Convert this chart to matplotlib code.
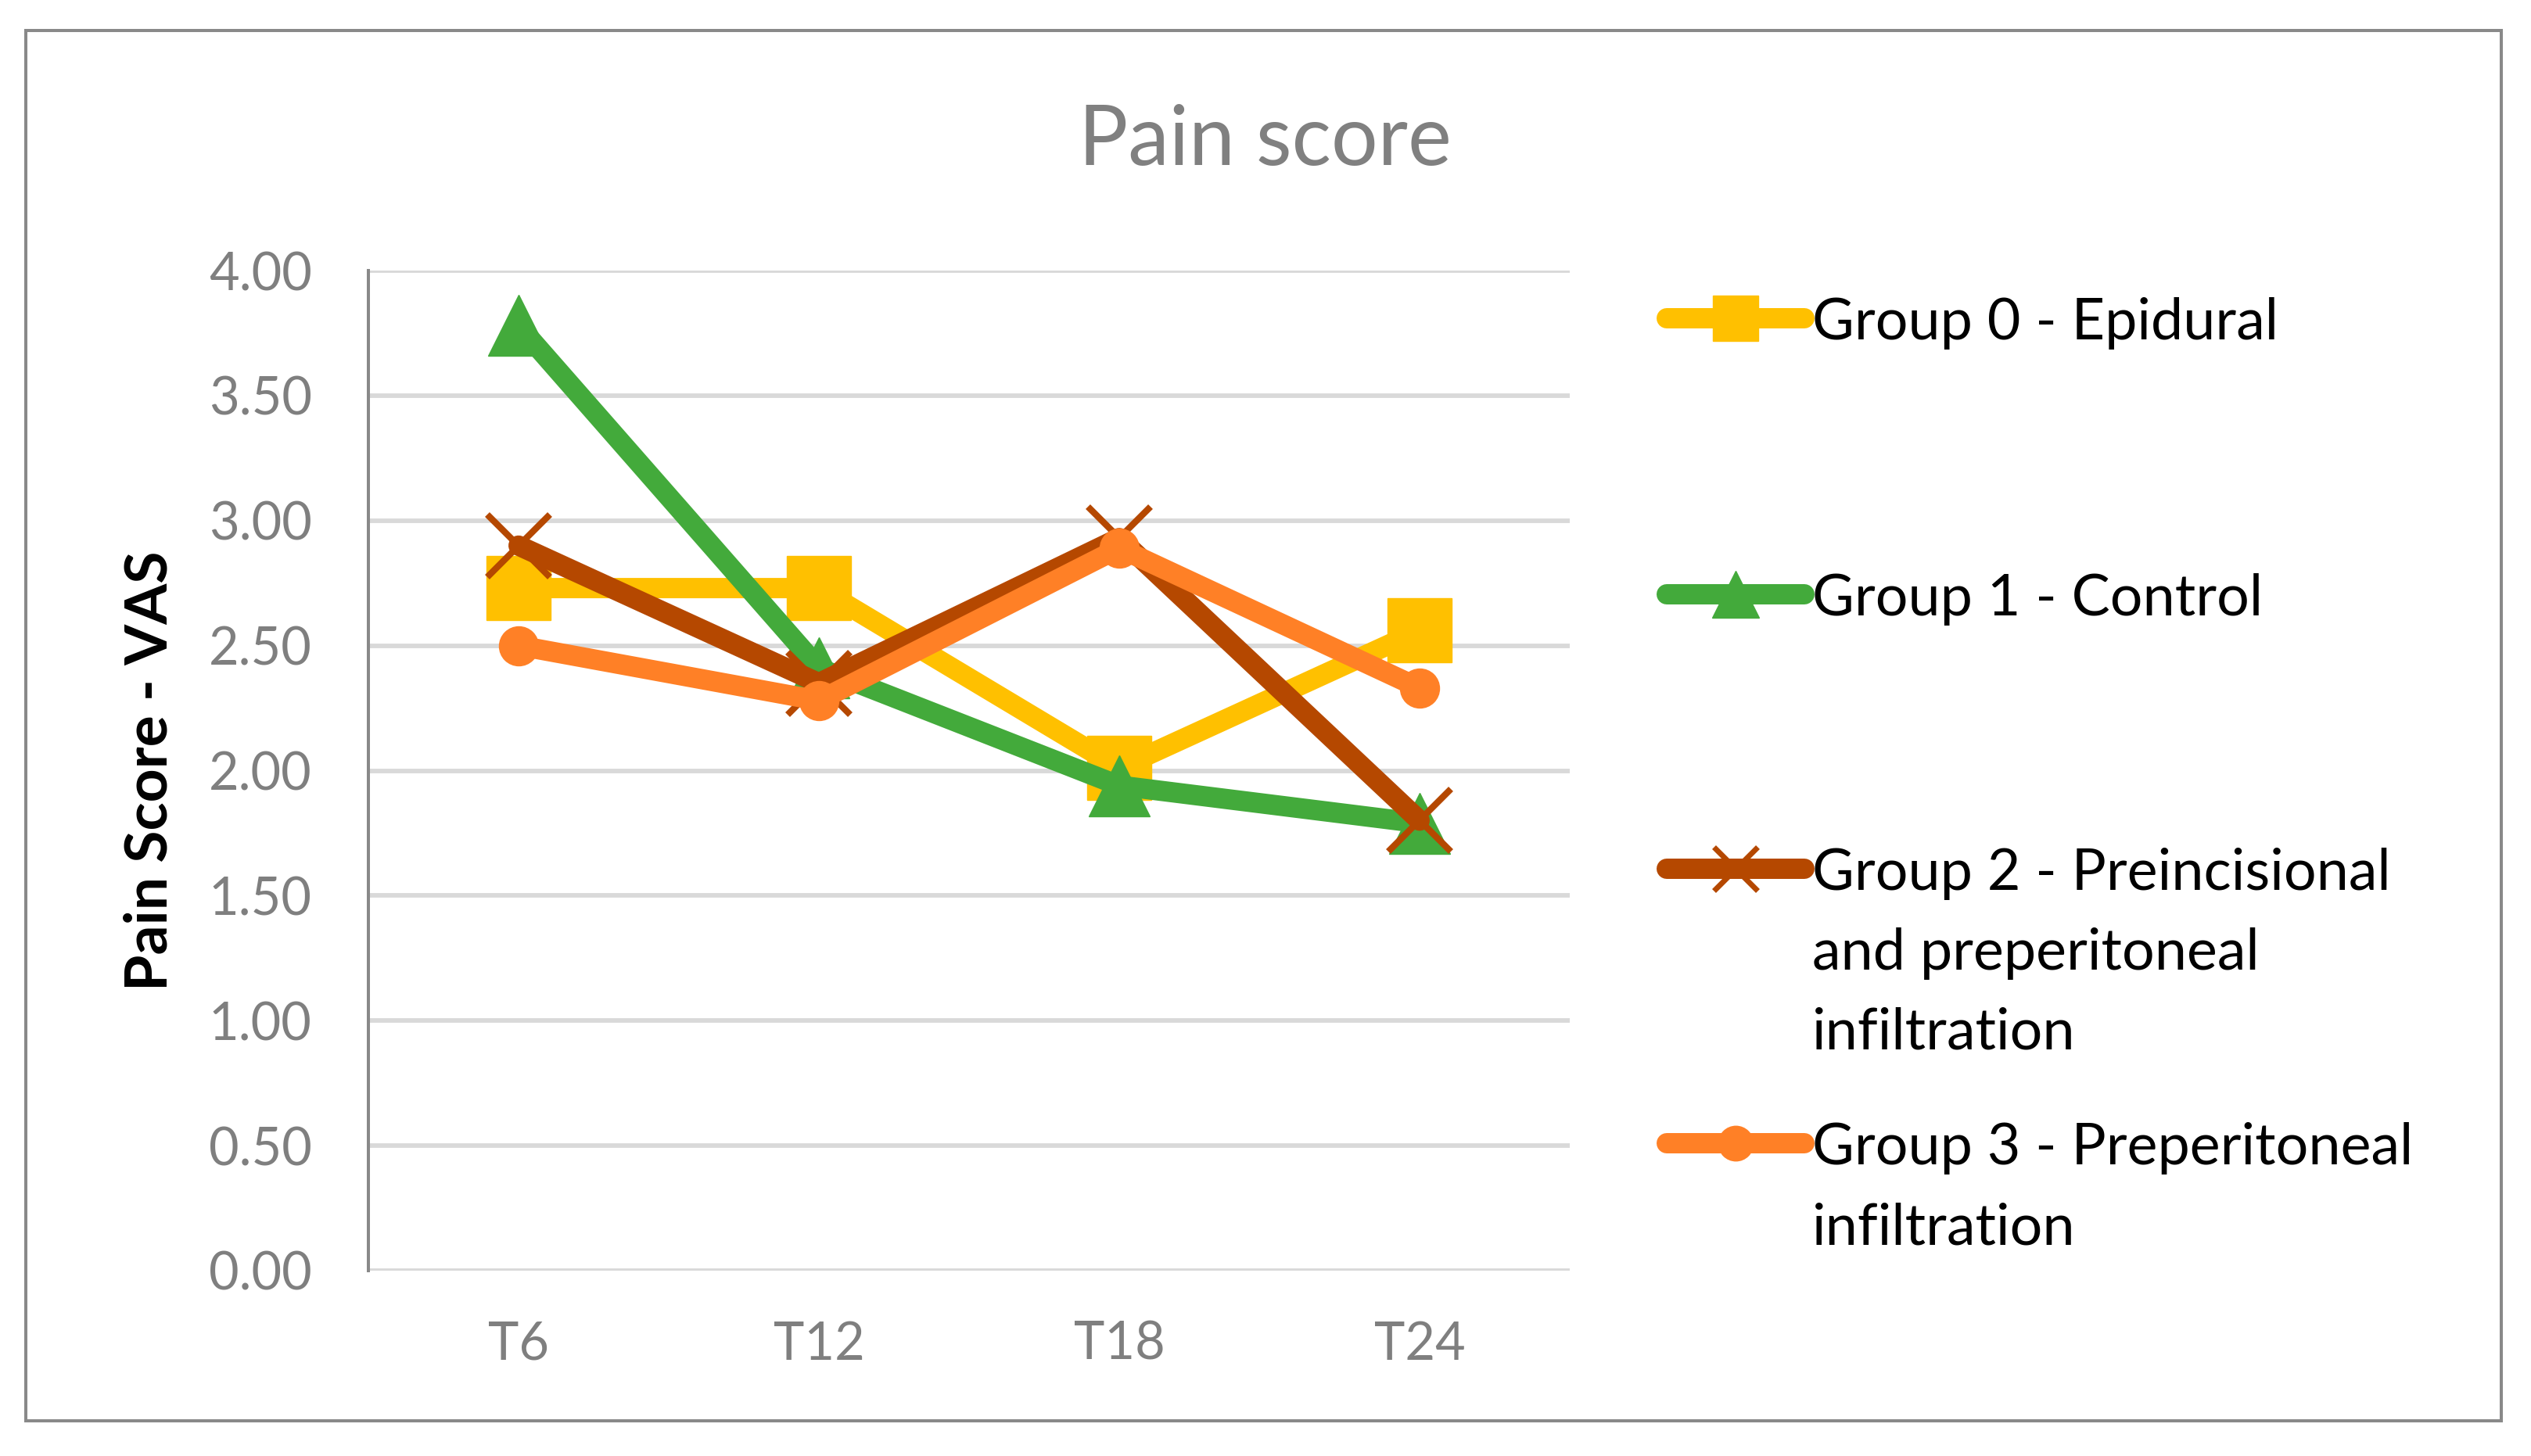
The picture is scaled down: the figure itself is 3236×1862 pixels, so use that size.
import matplotlib
import matplotlib.pyplot as plt
from matplotlib.lines import Line2D
from matplotlib.patches import Rectangle

matplotlib.use("Agg")

plt.rcParams["font.family"] = ["Lato", "DejaVu Sans"]

# data
times = ["T6", "T12", "T18", "T24"]
group0 = [2.73, 2.73, 2.01, 2.56]
group1 = [3.78, 2.41, 1.94, 1.79]
group2 = [2.90, 2.35, 2.93, 1.80]
group3 = [2.50, 2.28, 2.89, 2.33]

labels = [
    "Group 0 - Epidural",
    "Group 1 - Control",
    "Group 2 - Preincisional\nand preperitoneal\ninfiltration",
    "Group 3 - Preperitoneal\ninfiltration",
]
colors = ["#FFC000", "#43AA3B", "#B54800", "#FF8026"]
yticks = [0.0, 0.5, 1.0, 1.5, 2.0, 2.5, 3.0, 3.5, 4.0]

W, H = 3237, 1862
fig = plt.figure(figsize=(W / 100, H / 100), dpi=100)
ax = fig.add_axes([471 / W, 1 - 1625 / H, (2007 - 471) / W, (1625 - 346) / H])

series = [group0, group1, group2, group3]
markers = [
    dict(marker="s", markersize=59),
    dict(marker="^", markersize=56),
    dict(marker="x", markersize=58, markeredgewidth=6),
    dict(marker="o", markersize=36),
]
legend_markers = [
    dict(marker="s", markersize=42),
    dict(marker="^", markersize=43),
    dict(marker="x", markersize=40, markeredgewidth=5),
    dict(marker="o", markersize=32),
]

x = list(range(len(times)))
for vals, col, mk in zip(series, colors, markers):
    ax.plot(x, vals, color=col, lw=18.7, solid_joinstyle="round",
            solid_capstyle="round", markerfacecolor=col, markeredgecolor=col,
            clip_on=False, zorder=3, **mk)

ax.set_xlim(-0.5, 3.5)
ax.set_ylim(0, 4)
ax.set_xticks(x)
ax.set_xticklabels(times)
ax.set_yticks(yticks)
ax.set_yticklabels([f"{v:.2f}" for v in yticks])
ax.tick_params(length=0, labelsize=48, colors="#7F7F7F")
ax.tick_params(axis="x", pad=46)
ax.tick_params(axis="y", pad=52)
ax.grid(axis="y", color="#D9D9D9", lw=4.2)
ax.set_axisbelow(True)
for side in ["top", "right", "bottom"]:
    ax.spines[side].set_visible(False)
ax.spines["left"].set_color("#898989")
ax.spines["left"].set_linewidth(2.9)
ax.spines["left"].set_zorder(2)

ylab = ax.set_ylabel("Pain Score - VAS", fontsize=54, fontweight="bold", color="black")
ylab.set_va("center")
ax.yaxis.set_label_coords((192 - 471) / (2007 - 471), 0.5)

fig.text(1617 / W, 1 - 181 / H, "Pain score", fontsize=76, color="#808080",
         ha="center", va="center")

# legend drawn by hand, to keep Excel's spacing
entry_y = [407, 760, 1111, 1462]
line_gap = 102
for lab, col, mk, ey in zip(labels, colors, legend_markers, entry_y):
    fig.add_artist(Line2D([2131 / W, 2307 / W], [1 - ey / H, 1 - ey / H],
                          transform=fig.transFigure, color=col, lw=18.7,
                          solid_capstyle="round"))
    fig.add_artist(Line2D([2219 / W], [1 - ey / H], transform=fig.transFigure,
                          color=col, markerfacecolor=col, markeredgecolor=col,
                          linestyle="none", **mk))
    for i, part in enumerate(lab.split("\n")):
        fig.text(2317 / W, 1 - (ey + i * line_gap) / H, part, fontsize=53,
                 color="black", ha="left", va="center_baseline")

fig.add_artist(Rectangle((33 / W, 1 - 1817 / H), (3198 - 33) / W, (1817 - 39) / H,
                         transform=fig.transFigure, fill=False,
                         edgecolor="#898989", lw=2.9))

fig.savefig("out.png", dpi=100)
